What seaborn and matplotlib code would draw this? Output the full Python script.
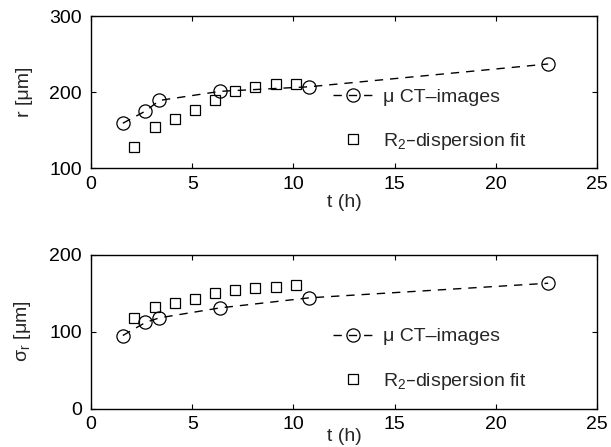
import matplotlib
matplotlib.use("Agg")
import matplotlib.pyplot as plt
import seaborn as sns
import pandas as pd

# micro-CT measurements (circles, dashed)
ct_t = [1.57, 2.69, 3.38, 6.39, 10.78, 22.59]
ct_r = [159, 175, 189, 201, 207, 237]
ct_sigma = [95, 112, 118, 131, 144, 163]

# R2-dispersion fit (squares)
fit_t = [2.13, 3.15, 4.14, 5.13, 6.14, 7.11, 8.12, 9.12, 10.11]
fit_r = [128, 154, 165, 176, 189, 202, 207, 211, 211]
fit_sigma = [118, 132, 137, 142, 150, 154, 157, 158, 161]

x_ticks = [0, 5, 10, 15, 20, 25]
r_ticks = [100, 200, 300]
s_ticks = [0, 100, 200]

ct_label = "\u03bc CT\u2013images"
fit_label = "R$_2$\u2013dispersion fit"

sns.set_style("ticks")
plt.rcParams["font.family"] = ["Liberation Sans", "DejaVu Sans"]
plt.rcParams["mathtext.default"] = "regular"
plt.rcParams["font.size"] = 14
plt.rcParams["axes.linewidth"] = 1.0
plt.rcParams["xtick.direction"] = "in"
plt.rcParams["ytick.direction"] = "in"
plt.rcParams["xtick.top"] = True
plt.rcParams["ytick.right"] = True
plt.rcParams["xtick.major.size"] = 3.5
plt.rcParams["ytick.major.size"] = 3.5
plt.rcParams["xtick.major.width"] = 0.8
plt.rcParams["ytick.major.width"] = 0.8
plt.rcParams["xtick.major.pad"] = 5.5
plt.rcParams["ytick.major.pad"] = 6.5
plt.rcParams["xtick.color"] = "black"
plt.rcParams["ytick.color"] = "black"
plt.rcParams["axes.edgecolor"] = "black"

ct_df = pd.DataFrame({"t": ct_t, "r": ct_r, "sigma": ct_sigma})
fit_df = pd.DataFrame({"t": fit_t, "r": fit_r, "sigma": fit_sigma})

fig = plt.figure(figsize=(6.11, 4.47), dpi=100)
ax1 = fig.add_axes([0.149, 0.624, 0.828, 0.340])
ax2 = fig.add_axes([0.149, 0.086, 0.828, 0.344])

def panel(ax, col, yticks, ylabel, xpad):
    sns.lineplot(data=ct_df, x="t", y=col, ax=ax, color="black", lw=1.0,
                 linestyle=(0, (6, 5)), marker="o", markersize=9.5,
                 markerfacecolor="none", markeredgecolor="black",
                 markeredgewidth=0.9, label=ct_label)
    sns.lineplot(data=fit_df, x="t", y=col, ax=ax, color="black",
                 linestyle="none", marker="s", markersize=7.5,
                 markerfacecolor="none", markeredgecolor="black",
                 markeredgewidth=0.9, label=fit_label)
    ax.set_xlim(x_ticks[0], x_ticks[-1])
    ax.set_ylim(yticks[0], yticks[-1])
    ax.set_xticks(x_ticks)
    ax.set_yticks(yticks)
    ax.set_xlabel("t (h)", labelpad=xpad)
    ax.set_ylabel(ylabel, labelpad=12)
    for s in ax.spines.values():
        s.set_visible(True)
    ax.legend(loc="upper left", bbox_to_anchor=(0.479, 0.525), frameon=False,
              borderpad=0, borderaxespad=0, handlelength=2.0,
              handletextpad=0.55, labelspacing=1.3, fontsize=14)

panel(ax1, "r", r_ticks, "r [\u03bcm]", 1)
panel(ax2, "sigma", s_ticks, "\u03c3$_r$ [\u03bcm]", -4)

fig.savefig("out.png", dpi=100)
